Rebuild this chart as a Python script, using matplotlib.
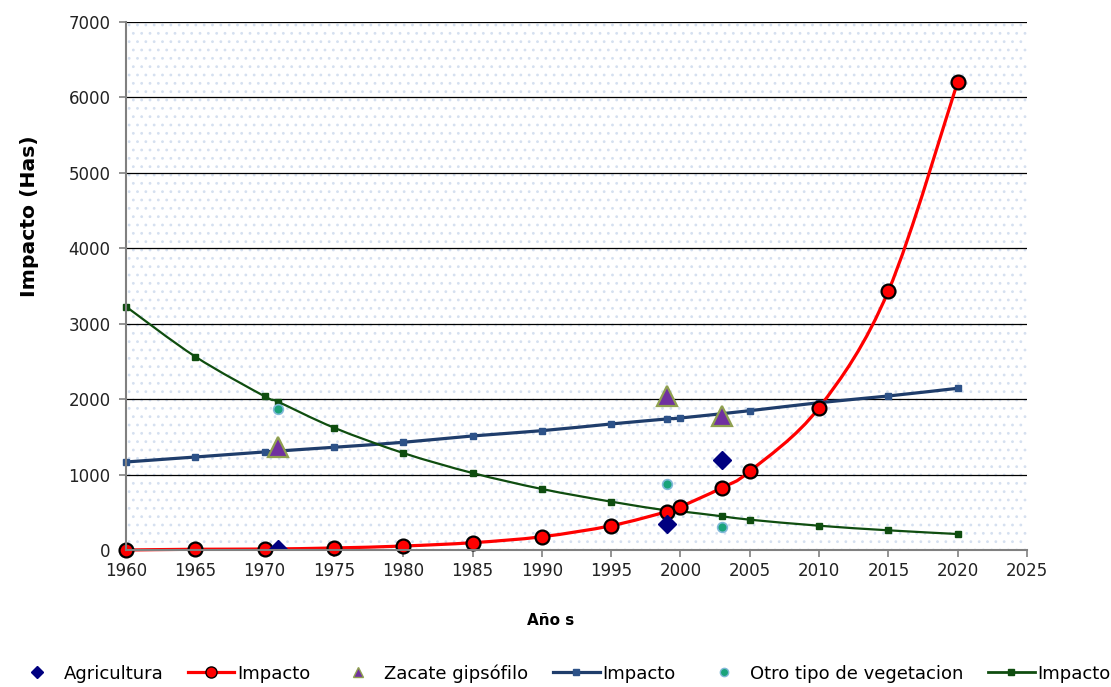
import numpy as np
import matplotlib
matplotlib.use("Agg")
import matplotlib.pyplot as plt
from matplotlib.path import Path
from matplotlib.patches import PathPatch, Rectangle
from matplotlib.lines import Line2D

plt.rcParams["font.family"] = ["DejaVu Sans"]
plt.rcParams["hatch.linewidth"] = 0.8

# ── Series ────────────────────────────────────────────────────────────────
years_red = [1960, 1965, 1970, 1975, 1980, 1985, 1990, 1995, 1999, 2000, 2003, 2005, 2010, 2015, 2020]
impacto_red = [0, 10, 13, 27, 53, 97, 176, 322, 508, 574, 826, 1044, 1887, 3435, 6207]

years_blue = [1960, 1965, 1970, 1975, 1980, 1985, 1990, 1995, 1999, 2000, 2005, 2010, 2015, 2020]
impacto_blue = [1167, 1233, 1300, 1362, 1428, 1512, 1582, 1671, 1737, 1750, 1847, 1953, 2042, 2144]

years_green = [1960, 1965, 1970, 1971, 1975, 1980, 1985, 1990, 1995, 1999, 2000, 2003, 2005, 2010, 2015, 2020]
impacto_green = [3227, 2564, 2038, 1963, 1622, 1286, 1021, 809, 641, 525, 513, 447, 402, 322, 261, 212]

obs_years = [1971, 1999, 2003]
agricultura = [20, 349, 1190]
zacate = [1370, 2042, 1777]
otro_veg = [1874, 880, 305]

x_ticks = list(range(1960, 2030, 5))
y_ticks = list(range(0, 8000, 1000))


def smooth_path(xs, ys):
    # Catmull-Rom segments as cubic Bezier curves (Excel-style smoothed line)
    pts = np.column_stack([xs, ys]).astype(float)
    verts = [pts[0]]
    codes = [Path.MOVETO]
    n = len(pts)
    for i in range(n - 1):
        p0 = pts[max(i - 1, 0)]
        p1 = pts[i]
        p2 = pts[i + 1]
        p3 = pts[min(i + 2, n - 1)]
        c1 = p1 + (p2 - p0) / 6.0
        c2 = p2 - (p3 - p1) / 6.0
        verts += [c1, c2, p2]
        codes += [Path.CURVE4] * 3
    return Path(verts, codes)


fig = plt.figure(figsize=(11.11, 6.87), dpi=100)
ax = fig.add_axes([0.1134, 0.1994, 0.8110, 0.7686])
ax.set_xlim(1960, 2025)
ax.set_ylim(0, 7000)

# dotted plot-area fill
ax.add_patch(Rectangle((0, 0), 1, 1, transform=ax.transAxes, facecolor="white",
                       edgecolor="#d5e0f0", hatch="..", linewidth=0, zorder=0))

for yv in y_ticks[1:]:
    ax.axhline(yv, color="black", lw=0.9, zorder=1)

series = [
    (years_red, impacto_red, "#ff0000", 2.3),
    (years_blue, impacto_blue, "#1f3d6b", 2.3),
    (years_green, impacto_green, "#0f4d0f", 1.6),
]
for xs, ys, col, lw in series:
    ax.add_patch(PathPatch(smooth_path(xs, ys), facecolor="none", edgecolor=col,
                           lw=lw, zorder=3, clip_on=False))

ax.plot(years_blue, impacto_blue, ls="none", marker="s", ms=5, color="#2d5288",
        mec="#2d5288", zorder=4, clip_on=False)
ax.plot(years_green, impacto_green, ls="none", marker="s", ms=5, color="#0f4d0f",
        zorder=4, clip_on=False)
ax.plot(years_red, impacto_red, ls="none", marker="o", ms=10, mfc="#ff0000",
        mec="black", mew=1.6, zorder=5, clip_on=False)

ax.plot(obs_years, agricultura, ls="none", marker="D", ms=9, color="#000080", zorder=6)
ax.plot(obs_years, zacate, ls="none", marker="^", ms=14, mfc="#7030a0",
        mec="#8fa050", mew=1.6, zorder=6)
ax.plot(obs_years, otro_veg, ls="none", marker="o", ms=7, mfc="#1aa37a",
        mec="#7fb8d8", mew=1.2, zorder=6)

ax.set_xticks(x_ticks)
ax.set_yticks(y_ticks)
ax.tick_params(axis="both", labelsize=12, direction="out", length=5,
               color="#808080", width=1.2, labelcolor="#222222")
ax.tick_params(axis="y", pad=6)

for side in ["top", "right"]:
    ax.spines[side].set_visible(False)
for side in ["left", "bottom"]:
    ax.spines[side].set_color("#808080")
    ax.spines[side].set_linewidth(1.5)
    ax.spines[side].set_zorder(7)

ax.set_ylabel("Impacto (Has)", fontsize=14.7, fontweight="bold")
ax.yaxis.set_label_coords(-0.0966, 0.633)
ax.set_xlabel("Año s", fontsize=11, fontweight="bold")
ax.xaxis.set_label_coords(0.471, -0.12)

handles = [
    Line2D([], [], ls="none", marker="D", ms=6, color="#000080"),
    Line2D([], [], color="#ff0000", lw=2.3, marker="o", ms=8, mfc="#ff0000", mec="black"),
    Line2D([], [], ls="none", marker="^", ms=7, mfc="#7030a0", mec="#8fa050"),
    Line2D([], [], color="#1f3d6b", lw=2.3, marker="s", ms=5, mfc="#2d5288", mec="#2d5288"),
    Line2D([], [], ls="none", marker="o", ms=6, mfc="#1aa37a", mec="#7fb8d8"),
    Line2D([], [], color="#0f4d0f", lw=2.0, marker="s", ms=5),
]
labels = ["Agricultura", "Impacto", "Zacate gipsófilo", "Impacto",
          "Otro tipo de vegetacion", "Impacto"]
fig.legend(handles, labels, loc="center", bbox_to_anchor=(0.506, 0.02), ncol=6,
           frameon=False, fontsize=13, handlelength=2.6, handletextpad=0.15,
           columnspacing=1.35, borderaxespad=0)

fig.savefig("out.png", dpi=100)
